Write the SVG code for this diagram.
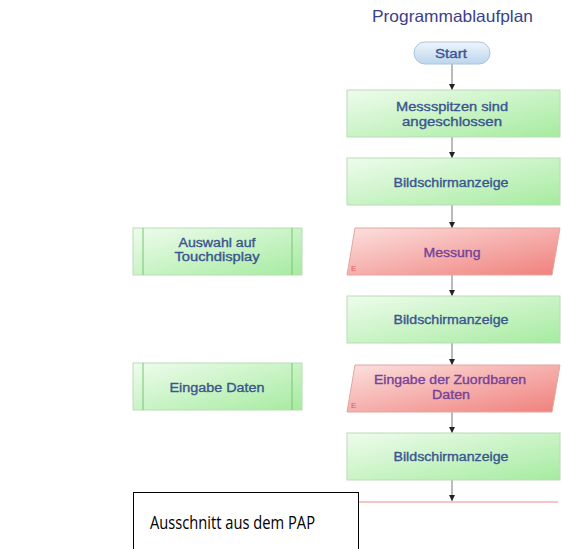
<svg xmlns="http://www.w3.org/2000/svg" width="562" height="549" viewBox="0 0 562 549">
<defs>
<linearGradient id="gG" x1="0" y1="0" x2="1" y2="1">
<stop offset="0" stop-color="#eefcec"/>
<stop offset="1" stop-color="#a6eba0"/>
</linearGradient>
<linearGradient id="gR" x1="0" y1="0" x2="1" y2="1">
<stop offset="0" stop-color="#fbe0de"/>
<stop offset="1" stop-color="#f0807c"/>
</linearGradient>
<linearGradient id="gB" x1="0" y1="0" x2="0" y2="1">
<stop offset="0" stop-color="#eef5fb"/>
<stop offset="1" stop-color="#bcd6ec"/>
</linearGradient>
<marker id="ah" viewBox="0 0 10 10" refX="10" refY="5" markerWidth="6" markerHeight="6" orient="auto">
<path d="M0,0 L10,5 L0,10 z" fill="#222"/>
</marker>
<style>
.g{fill:url(#gG);stroke:#b9dcb6;stroke-width:1}
.r{fill:url(#gR);stroke:#e4a5a2;stroke-width:1}
.t{font-family:"Liberation Sans",Arial,sans-serif;font-size:12.5px;text-anchor:middle;fill:#3a5590;stroke:#3a5590;stroke-width:0.35}
.tr{font-family:"Liberation Sans",Arial,sans-serif;font-size:12.5px;text-anchor:middle;fill:#74439a;stroke:#74439a;stroke-width:0.35}
.e{font-family:"Liberation Sans",Arial,sans-serif;font-size:8px;fill:#e05a5a}
.c{stroke:#777;stroke-width:1;fill:none;marker-end:url(#ah)}
.v{stroke:#7cc27a;stroke-width:1}
</style>
</defs>
<rect width="562" height="549" fill="#ffffff"/>
<text x="452.5" y="22" font-family="Liberation Sans,Arial,sans-serif" font-size="16.5" text-anchor="middle" fill="#3b3f8c" textLength="161" lengthAdjust="spacingAndGlyphs">Programmablaufplan</text>

<g id="connectors">
<line class="c" x1="452" y1="64" x2="452" y2="90"/>
<line class="c" x1="452" y1="137" x2="452" y2="158"/>
<line class="c" x1="452" y1="205" x2="452" y2="228"/>
<line class="c" x1="452" y1="275" x2="452" y2="296"/>
<line class="c" x1="452" y1="343" x2="452" y2="365"/>
<line class="c" x1="452" y1="412" x2="452" y2="433"/>
<line class="c" x1="452" y1="480" x2="452" y2="501"/>
<line x1="340" y1="502" x2="558" y2="502" stroke="#f08a8a" stroke-width="1"/>
</g>

<g id="start">
<rect x="414" y="42" width="76" height="22" rx="11" fill="url(#gB)" stroke="#a9c4de"/>
<text class="t" x="451" y="58" textLength="32" lengthAdjust="spacingAndGlyphs">Start</text>
</g>

<g id="n1">
<rect class="g" x="347" y="90" width="213" height="47"/>
<text class="t" x="452" y="111" textLength="112" lengthAdjust="spacingAndGlyphs">Messspitzen sind</text>
<text class="t" x="452" y="126" textLength="100" lengthAdjust="spacingAndGlyphs">angeschlossen</text>
</g>

<g id="n2">
<rect class="g" x="347" y="158" width="213" height="47"/>
<text class="t" x="451" y="187" textLength="115" lengthAdjust="spacingAndGlyphs">Bildschirmanzeige</text>
</g>

<g id="n3">
<polygon class="r" points="355,228 560,228 552,275 347,275"/>
<text class="tr" x="452" y="257" textLength="57" lengthAdjust="spacingAndGlyphs">Messung</text>
<text class="e" x="351" y="271">E</text>
</g>

<g id="n4">
<rect class="g" x="347" y="296" width="213" height="47"/>
<text class="t" x="451" y="324" textLength="115" lengthAdjust="spacingAndGlyphs">Bildschirmanzeige</text>
</g>

<g id="n5">
<polygon class="r" points="355,365 560,365 552,412 347,412"/>
<text class="tr" x="450" y="384" textLength="152" lengthAdjust="spacingAndGlyphs">Eingabe der Zuordbaren</text>
<text class="tr" x="451" y="399" textLength="38" lengthAdjust="spacingAndGlyphs">Daten</text>
<text class="e" x="351" y="408">E</text>
</g>

<g id="n6">
<rect class="g" x="347" y="433" width="213" height="47"/>
<text class="t" x="451" y="461" textLength="115" lengthAdjust="spacingAndGlyphs">Bildschirmanzeige</text>
</g>

<g id="p1">
<rect class="g" x="133" y="228" width="169" height="47"/>
<line class="v" x1="143" y1="228" x2="143" y2="275"/>
<line class="v" x1="292" y1="228" x2="292" y2="275"/>
<text class="t" x="217" y="247" textLength="77" lengthAdjust="spacingAndGlyphs">Auswahl auf</text>
<text class="t" x="217" y="261" textLength="85" lengthAdjust="spacingAndGlyphs">Touchdisplay</text>
</g>

<g id="p2">
<rect class="g" x="133" y="363" width="169" height="47"/>
<line class="v" x1="143" y1="363" x2="143" y2="410"/>
<line class="v" x1="292" y1="363" x2="292" y2="410"/>
<text class="t" x="217" y="392" textLength="95" lengthAdjust="spacingAndGlyphs">Eingabe Daten</text>
</g>

<g id="caption">
<rect x="133.5" y="492.5" width="225" height="60" fill="#ffffff" stroke="#000000" stroke-width="1"/>
<text x="150" y="529" font-family="'Open Sans','Liberation Sans',sans-serif" font-size="19" fill="#000000" textLength="165" lengthAdjust="spacingAndGlyphs">Ausschnitt aus dem PAP</text>
</g>
</svg>
